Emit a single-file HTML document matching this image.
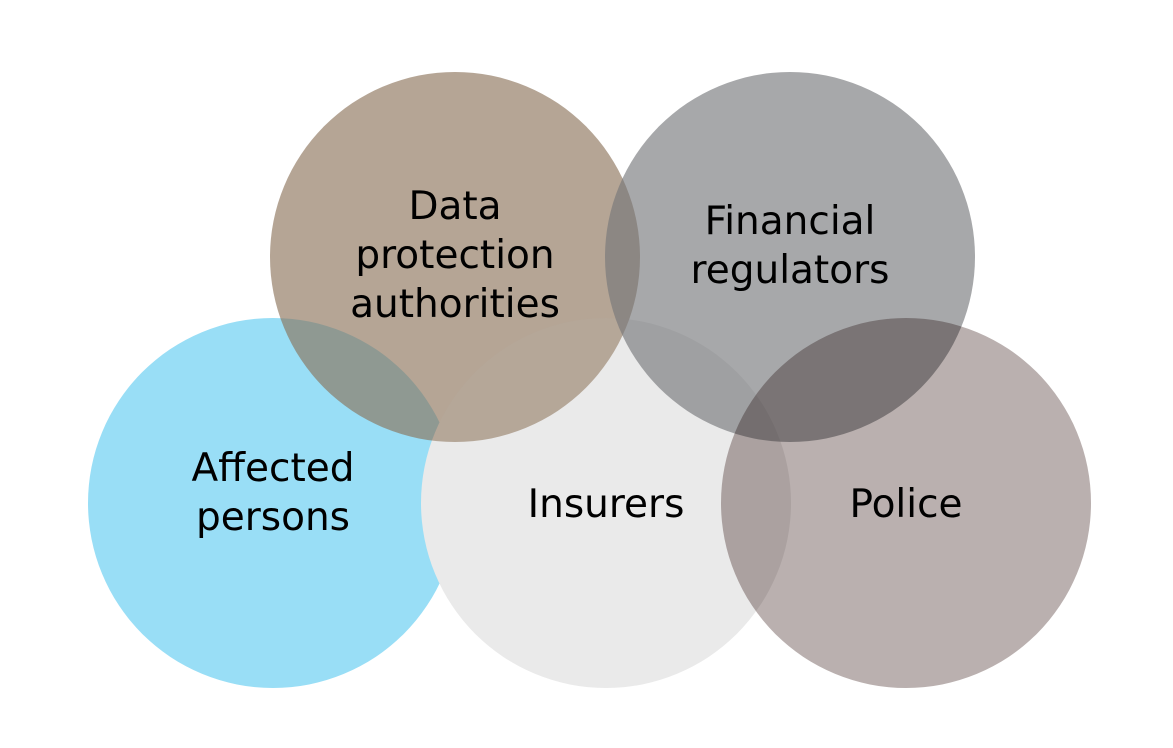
<!DOCTYPE html>
<html><head><style>
html,body{margin:0;padding:0;background:#fff;}
body{width:1173px;height:748px;position:relative;overflow:hidden;font-family:"DejaVu Sans","Liberation Sans",sans-serif;}
.c{position:absolute;border-radius:50%;width:370px;height:370px;}
.t{position:absolute;text-align:center;font-size:39px;line-height:49px;color:#000;width:400px;}
</style></head><body>
<div class="c" style="left:88px;top:318px;background:#99DEF6;"></div>
<div class="c" style="left:421px;top:318px;background:#E8E8E8;"></div>
<div class="c" style="left:270px;top:72px;background:rgba(138,113,87,0.63);"></div>
<div class="c" style="left:421px;top:318px;background:rgba(255,255,255,0.1);"></div>
<div class="c" style="left:605px;top:72px;background:rgba(116,117,121,0.63);"></div>
<div class="c" style="left:721px;top:318px;background:#BAB0AF;mix-blend-mode:multiply;"></div>
<div class="t" style="left:255px;top:182px;">Data<br>protection<br>authorities</div>
<div class="t" style="left:590px;top:197px;">Financial<br>regulators</div>
<div class="t" style="left:73px;top:444px;">Affected<br>persons</div>
<div class="t" style="left:406px;top:480px;">Insurers</div>
<div class="t" style="left:706px;top:480px;">Police</div>
</body></html>
